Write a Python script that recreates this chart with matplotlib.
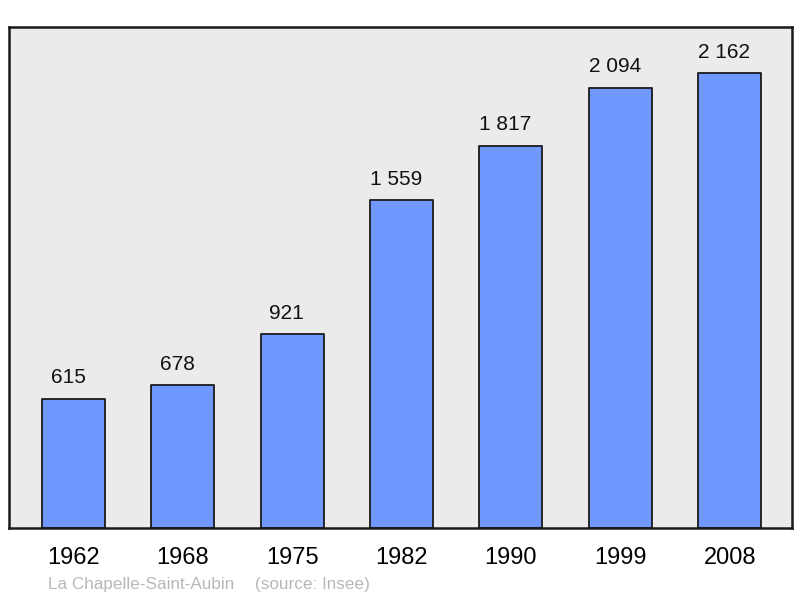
import matplotlib
matplotlib.use("Agg")
import matplotlib.pyplot as plt

plt.rcParams['font.family'] = ['Liberation Sans', 'DejaVu Sans']

# data
years = ['1962', '1968', '1975', '1982', '1990', '1999', '2008']
population = [615, 678, 921, 1559, 1817, 2094, 2162]
commune = 'La Chapelle-Saint-Aubin'
source = '(source: Insee)'

fig = plt.figure(figsize=(8, 5.98), dpi=100)
ax = fig.add_axes([9 / 800, 1 - 528 / 598, 783 / 800, 501 / 598])
ax.set_facecolor('#ebebeb')

x = range(len(years))
ax.bar(x, population, width=0.576, color='#7099ff', edgecolor='#1a1a1a',
       linewidth=1.3, joinstyle='round', zorder=2)

for i, v in zip(x, population):
    label = '{:,}'.format(v).replace(',', ' ')
    ax.text(i - 0.05, v + 55, label, ha='center', va='bottom', fontsize=15, color='#111111')

ax.set_xlim(-0.59, 6.57)
ax.set_ylim(0, 2382)
ax.set_xticks(list(x))
ax.set_xticklabels(years, fontsize=17)
ax.tick_params(axis='x', length=0, pad=14)
ax.set_yticks([])
for s in ax.spines.values():
    s.set_linewidth(1.8)
    s.set_color('#1a1a1a')

fig.text(48 / 800, 1 - 584 / 598, commune, fontsize=12.3, color='#b8b8b8', va='center')
fig.text(255 / 800, 1 - 584 / 598, source, fontsize=12.3, color='#b8b8b8', va='center')

fig.savefig('out.png', dpi=100)
